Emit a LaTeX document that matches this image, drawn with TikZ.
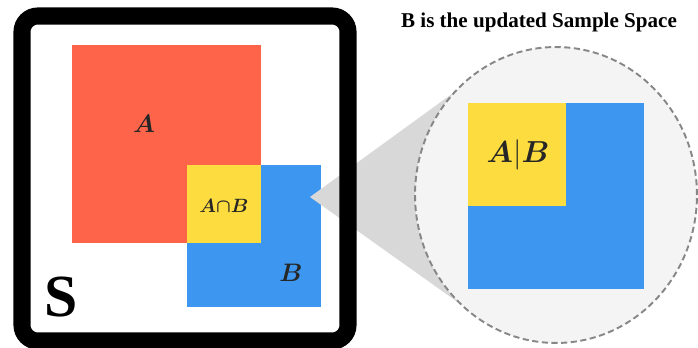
\documentclass[tikz,border=0pt]{standalone}
\usepackage{bm}
\usepackage{fontspec}
\newfontfamily\capfont{Liberation Serif}
\usetikzlibrary{shapes.geometric}
\definecolor{setred}{RGB}{254,100,74}
\definecolor{setyellow}{RGB}{252,220,62}
\definecolor{setblue}{RGB}{61,150,240}
\definecolor{callgray}{RGB}{216,216,216}
\definecolor{ringfill}{RGB}{244,244,244}
\definecolor{ringgray}{RGB}{135,135,135}
\pgfdeclarelayer{back}
\pgfsetlayers{back,main}
\tikzset{
  setlabel/.style={text=black!85, inner sep=0pt, anchor=base},
  ring/.style={ellipse, draw=ringgray, fill=ringfill, dash pattern=on 3.5pt off 2pt,
    line width=1.1pt, minimum width=5.64cm, minimum height=5.92cm, inner sep=0pt}
}
\begin{document}
\begin{tikzpicture}[x=0.02cm,y=-0.02cm]
\useasboundingbox (0,0) rectangle (698,348);
% sample space
\draw[line width=9.7pt, rounded corners=9pt] (22,16) rectangle (348,341);
\node[inner sep=0pt, anchor=base, font=\capfont\bfseries\fontsize{34}{34}\selectfont] (S) at (61,317) {S};
% zoomed view
\node[ring] (zoom) at (556,195) {};
\begin{pgfonlayer}{back}
\fill[setred] (72,45) rectangle (261,243);
\fill[setblue] (187,165) rectangle (321,307);
\fill[setyellow] (187,165) rectangle (261,243);
\coordinate (tip) at (310,197);
\fill[callgray] (tip) -- (zoom.136) -- (zoom.center) -- (zoom.227) -- cycle;
\end{pgfonlayer}
\fill[setblue] (468,103) rectangle (644,289);
\fill[setyellow] (468,103) rectangle (566,206);
% labels
\node[setlabel, font=\fontsize{14}{14}\selectfont] (labA) at (144,133) {$\bm{A}$};
\node[setlabel, font=\fontsize{11}{11}\selectfont] (labAB) at (224,213) {$\bm{A}{\bm{\cap}}\bm{B}$};
\node[setlabel, font=\fontsize{14}{14}\selectfont] (labB) at (291,282) {$\bm{B}$};
\node[setlabel, font=\fontsize{19}{19}\selectfont] (labcond) at (518,163) {$\bm{A}|\bm{B}$};
\node[inner sep=0pt, anchor=base, font=\capfont\bfseries\fontsize{12}{12}\selectfont] (title) at (539,28) {B is the updated Sample Space};
\end{tikzpicture}
\end{document}
